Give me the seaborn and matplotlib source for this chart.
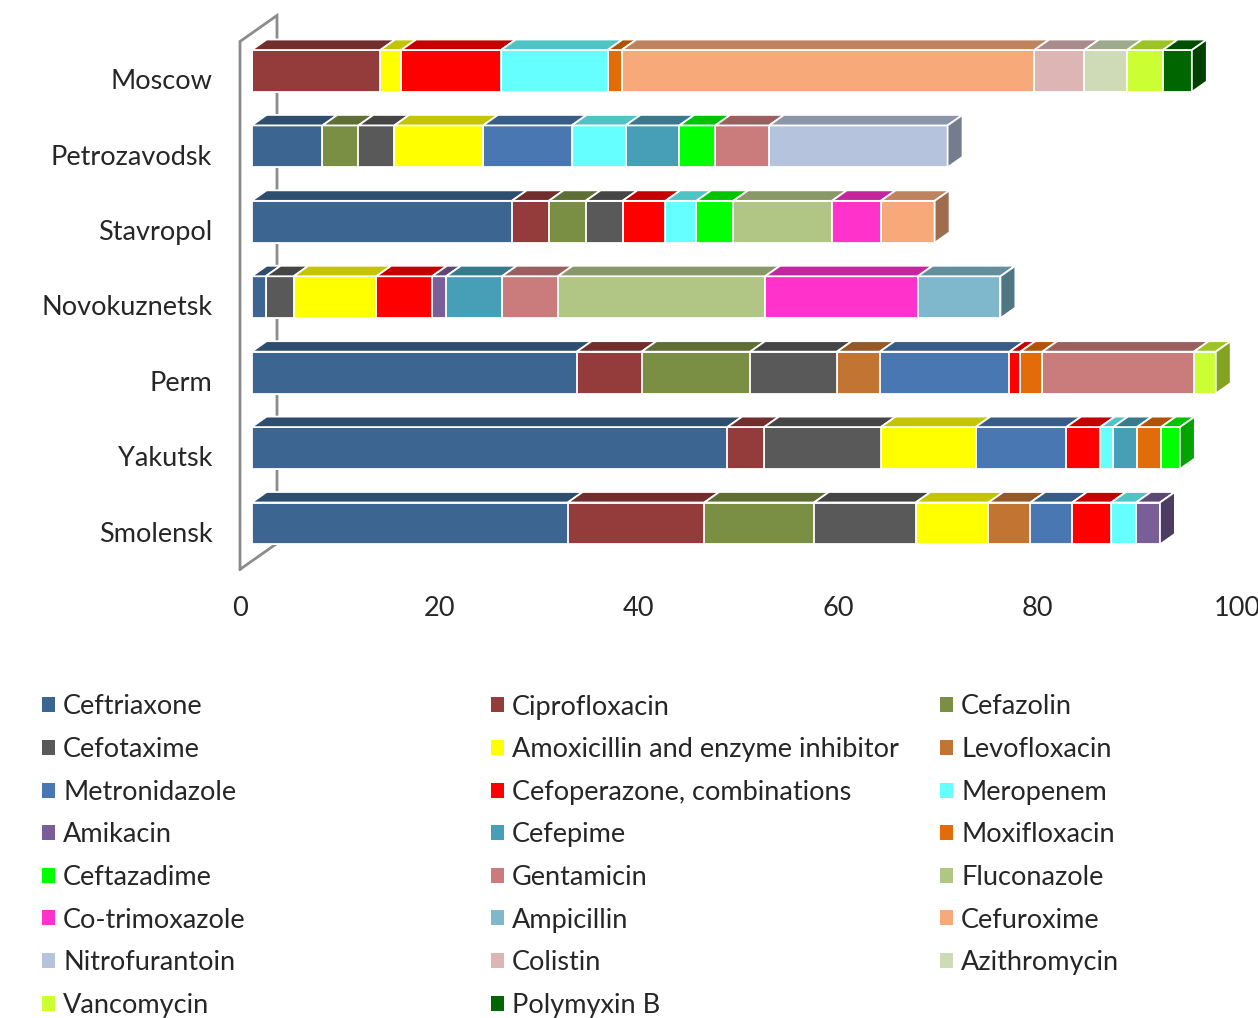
import numpy as np
import pandas as pd
import matplotlib
matplotlib.use("Agg")
import matplotlib.pyplot as plt
import matplotlib.transforms as mtransforms
from matplotlib.patches import Polygon, Patch
import seaborn as sns

# ---- data -------------------------------------------------------------
cities = ["Moscow", "Petrozavodsk", "Stavropol", "Novokuznetsk",
          "Perm", "Yakutsk", "Smolensk"]

antibiotics = [
    "Ceftriaxone", "Ciprofloxacin", "Cefazolin", "Cefotaxime",
    "Amoxicillin and enzyme inhibitor", "Levofloxacin", "Metronidazole",
    "Cefoperazone, combinations", "Meropenem", "Amikacin", "Cefepime",
    "Moxifloxacin", "Ceftazadime", "Gentamicin", "Fluconazole",
    "Co-trimoxazole", "Ampicillin", "Cefuroxime", "Nitrofurantoin",
    "Colistin", "Azithromycin", "Vancomycin", "Polymyxin B",
]

colors = [
    "#3C6592", "#943B3B", "#7A8F43", "#595959", "#FFFF00", "#C27433",
    "#4877B1", "#FF0000", "#66FFFF", "#795E98", "#479FB7", "#E36C0A",
    "#00FF00", "#C97C7B", "#B1C585", "#FF33CC", "#7FB8CD", "#F8A97A",
    "#B6C3DD", "#DDB5B5", "#CFDBB7", "#CCFF33", "#006600",
]

# share of prescriptions (%), in the order of `antibiotics`
moscow = [0, 12.9, 0, 0, 2.1, 0, 0, 10.0, 10.7, 0, 0, 1.4, 0, 0, 0, 0, 0,
          41.4, 0, 5.0, 4.3, 3.6, 2.9]
petrozavodsk = [7.1, 0, 3.6, 3.6, 8.9, 0, 8.9, 0, 5.4, 0, 5.4, 0, 3.6, 5.4,
                0, 0, 0, 0, 17.9, 0, 0, 0, 0]
stavropol = [26.1, 3.7, 3.7, 3.7, 0, 0, 0, 4.3, 3.1, 0, 0, 0, 3.7, 0, 9.9,
             4.9, 0, 5.4, 0, 0, 0, 0, 0]
novokuznetsk = [1.4, 0, 0, 2.8, 8.3, 0, 0, 5.6, 0, 1.4, 5.6, 0, 0, 5.6,
                20.8, 15.3, 8.3, 0, 0, 0, 0, 0, 0]
perm = [32.6, 6.5, 10.9, 8.7, 0, 4.3, 13.0, 1.1, 0, 0, 0, 2.2, 0, 15.2, 0,
        0, 0, 0, 0, 0, 0, 2.2, 0]
yakutsk = [47.7, 3.7, 0, 11.7, 9.5, 0, 9.1, 3.4, 1.3, 0, 2.4, 2.4, 1.9, 0,
           0, 0, 0, 0, 0, 0, 0, 0, 0]
smolensk = [31.7, 13.7, 11.0, 10.2, 7.3, 4.2, 4.2, 3.9, 2.5, 2.4, 0, 0, 0,
            0, 0, 0, 0, 0, 0, 0, 0, 0, 0]

xticks = [0, 20, 40, 60, 80, 100]

# ---- long-form table ---------------------------------------------------
rows = [moscow, petrozavodsk, stavropol, novokuznetsk, perm, yakutsk, smolensk]
values = np.array(rows, dtype=float)              # cities x antibiotics
right = np.cumsum(values, axis=1)
left = right - values
df = pd.DataFrame({
    "city": np.repeat(cities, len(antibiotics)),
    "antibiotic": np.tile(antibiotics, len(cities)),
    "value": values.ravel(),
    "left": left.ravel(),
    "right": right.ravel(),
})

# ---- styling ----------------------------------------------------------
sns.set_theme(style="white")
plt.rcParams["font.family"] = ["Lato", "DejaVu Sans"]

W, H = 1258, 1018
fig = plt.figure(figsize=(W / 100, H / 100), dpi=100)
ax = fig.add_axes([240 / W, 1 - 569.4 / H, 997 / W, 527.9 / H])

# oblique projection of the depth axis (data units)
DX, DY = 3.71, -0.345
F0, F1 = 0.316, 0.72
BAR_H = 0.556


def shade(c, k):
    r, g, b = matplotlib.colors.to_rgb(c)
    return (r * k, g * k, b * k)


# front faces: cumulative bars, last series first so earlier ones overlay
front_shift = mtransforms.Affine2D().translate(F0 * DX, F0 * DY) + ax.transData
for k in range(len(antibiotics) - 1, -1, -1):
    sub = df[df["antibiotic"] == antibiotics[k]]
    n_before = len(ax.patches)
    sns.barplot(data=sub, x="right", y="city", order=cities, orient="h",
                color=colors[k], saturation=1, width=BAR_H,
                edgecolor="white", linewidth=1.3, ax=ax, zorder=3)
    for p in ax.patches[n_before:]:
        p.set_transform(front_shift)
        p.set_clip_on(False)

# top faces and the visible end face of each bar
for i, city in enumerate(cities):
    top = i - BAR_H / 2
    bot = i + BAR_H / 2
    last = None
    for k, name in enumerate(antibiotics):
        if values[i, k] <= 0:
            continue
        x0, x1 = left[i, k], right[i, k]
        poly = [(x0 + F0 * DX, top + F0 * DY), (x1 + F0 * DX, top + F0 * DY),
                (x1 + F1 * DX, top + F1 * DY), (x0 + F1 * DX, top + F1 * DY)]
        ax.add_patch(Polygon(poly, closed=True, facecolor=shade(colors[k], 0.77),
                             edgecolor="white", linewidth=1.3, zorder=3,
                             clip_on=False))
        last = k
    x1 = right[i, last]
    side = [(x1 + F0 * DX, top + F0 * DY), (x1 + F1 * DX, top + F1 * DY),
            (x1 + F1 * DX, bot + F1 * DY), (x1 + F0 * DX, bot + F0 * DY)]
    ax.add_patch(Polygon(side, closed=True, facecolor=shade(colors[last], 0.64),
                         edgecolor="white", linewidth=1.3, zorder=3,
                         clip_on=False))

# side wall outline
y_top, y_bot = -0.5, len(cities) - 0.5
wall = [(0, y_bot), (0, y_top), (DX, y_top + DY), (DX, y_bot + DY), (0, y_bot)]
wx, wy = zip(*wall)
ax.plot(wx, wy, color="#8C8C8C", linewidth=2, zorder=1, clip_on=False,
        solid_joinstyle="miter")

ax.set_xlim(0, 100)
ax.set_ylim(y_bot, y_top)
ax.set_xticks(xticks)
ax.set_xticklabels([str(t) for t in xticks])
ax.set_xlabel("")
ax.set_ylabel("")
for s in ax.spines.values():
    s.set_visible(False)
ax.tick_params(axis="x", length=0, pad=19, labelsize=19.5)
ax.tick_params(axis="y", length=0, pad=20, labelsize=19.5)
ax.grid(False)
ax.patch.set_alpha(0)

# legend: three evenly spaced columns filled row by row
handles = [Patch(facecolor=c, edgecolor="none") for c in colors]
col_x = [42, 491, 940]
for j in range(3):
    idx = list(range(j, len(antibiotics), 3))
    fig.legend([handles[m] for m in idx], [antibiotics[m] for m in idx],
               loc="upper left", bbox_to_anchor=(col_x[j] / W, 1 - 694.5 / H),
               frameon=False, fontsize=19.5, borderpad=0, borderaxespad=0,
               handlelength=0.48, handleheight=0.48, handletextpad=0.3,
               labelspacing=0.65)

fig.savefig("out.png", dpi=100)
